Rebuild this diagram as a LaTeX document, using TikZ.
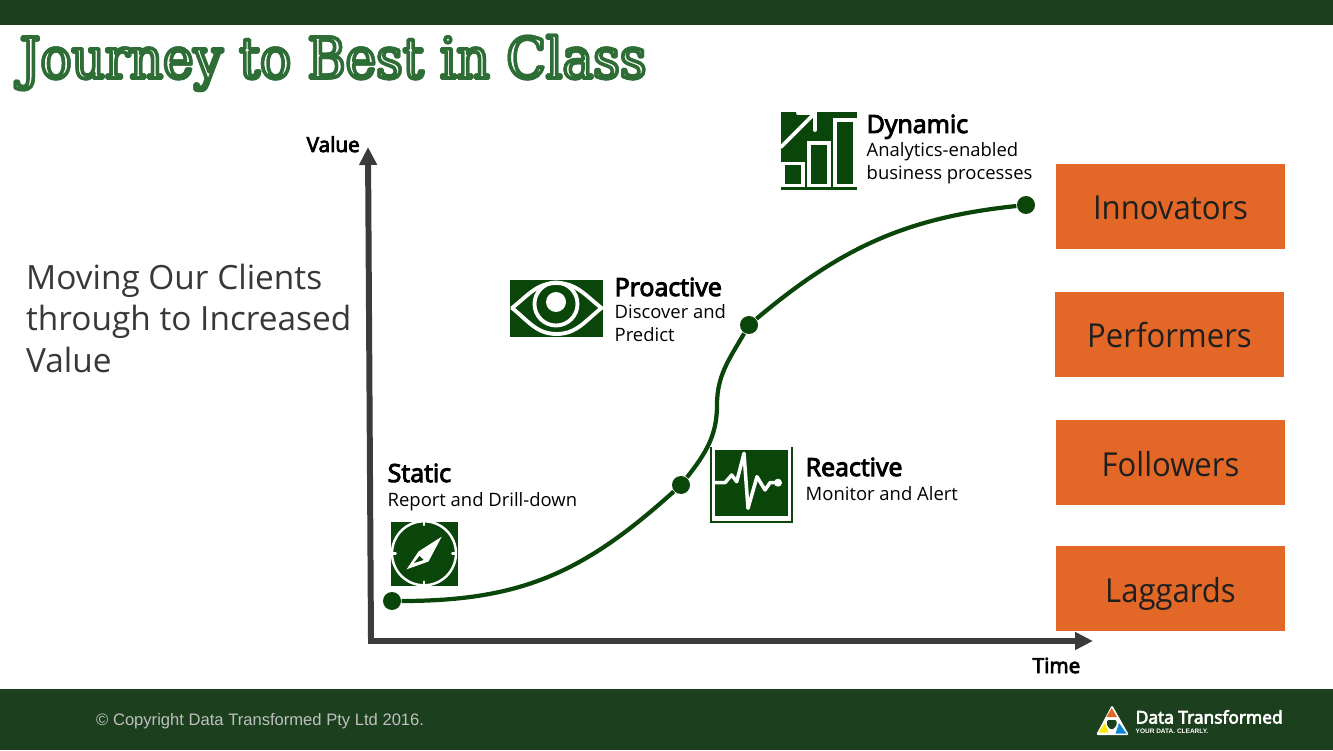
\documentclass[tikz,border=0pt]{standalone}
\usepackage{fontspec}
\setmainfont{Open Sans}
\newfontfamily\titlefont[FakeStretch=0.92]{DejaVu Serif}
\newfontfamily\footfont{Liberation Sans}
\newfontfamily\boxfont[FakeStretch=0.94]{Open Sans}
\newfontfamily\headfont[FakeBold=4]{Open Sans}
\usetikzlibrary{arrows.meta}

\definecolor{barcolor}{HTML}{1C3F1E}
\definecolor{leafcolor}{HTML}{0A450A}
\definecolor{titlecolor}{HTML}{2E6E35}
\definecolor{boxcolor}{HTML}{E36727}
\definecolor{axiscolor}{HTML}{3B3B3B}

\newcommand{\titlestroke}[2]{\special{pdf:code q #2 Tr #1 w 0.18 0.43 0.21 RG 1 j}}
\newcommand{\titlestrokeend}{\special{pdf:code Q}}
\newcommand{\titlewords}{Journey to Best in Class}

\tikzset{
  levelbox/.style={fill=boxcolor,minimum width=2.29cm,minimum height=0.85cm,inner sep=0,text height=0.27cm,text depth=0,font=\boxfont\fontsize{9.4}{11}\selectfont,text=black!88},
  stagehead/.style={anchor=base west,inner sep=0,font=\headfont\fontsize{7.1}{8.2}\selectfont},
  stagetext/.style={anchor=base west,inner sep=0,align=left,font=\fontsize{5.25}{6.6}\selectfont},
  axislabel/.style={anchor=base west,inner sep=0,font=\headfont\fontsize{5.9}{7.2}\selectfont},
  curvedot/.style={circle,fill=leafcolor,minimum size=0.18cm,inner sep=0},
  titleword/.style={anchor=base west,inner sep=0,font=\titlefont\fontsize{16}{18}\selectfont},
  iconline/.style={draw=white,line width=1.1pt,line join=round,line cap=round}
}

\begin{document}
\begin{tikzpicture}[scale=1]
\useasboundingbox (0,0) rectangle (13.33,7.5);

% Bars
\fill[barcolor] (0,7.25) rectangle (13.33,7.5);
\fill[barcolor] (0,0) rectangle (13.33,0.61);

% Title
\node[titleword,text=titlecolor] (title) at (0.19,6.72) {\titlestroke{1}{2}\titlewords\titlestrokeend};
\node[titleword,text=white] (titleinner) at (0.19,6.72) {\titlewords};
\node[titleword,text=white] (titleline) at (0.19,6.72) {\titlestroke{1}{1}\titlewords\titlestrokeend};

% Left text
\node[anchor=base west,inner sep=0,align=left,text=black!78,font=\fontsize{9.5}{11.95}\selectfont] (intro) at (0.255,3.77) {Moving Our Clients\\through to Increased\\Value};

% Axes
\coordinate (origin) at (3.71,1.09);
\coordinate (valuetip) at (3.68,6.03);
\coordinate (timetip) at (10.93,1.09);
\draw[axiscolor,line width=1.7pt,-{Triangle[length=0.18cm,width=0.17cm]}] (origin) -- (valuetip);
\draw[axiscolor,line width=1.7pt,-{Triangle[length=0.18cm,width=0.17cm]}] (3.68,1.09) -- (timetip);
\node[axislabel] (value) at (3.06,5.98) {Value};
\node[axislabel] (time) at (10.32,0.77) {Time};

% Curve
\node[curvedot] (static) at (3.92,1.49) {};
\node[curvedot] (reactive) at (6.81,2.65) {};
\node[curvedot] (proactive) at (7.49,4.25) {};
\node[curvedot] (dynamic) at (10.26,5.45) {};
\coordinate (bend) at (7.17,3.45);
\draw[leafcolor,line width=1.2pt] (static) to [out=0,in=222,looseness=1.05] (reactive) to [out=52,in=270] (bend) to [out=90,in=240] (proactive) to [out=40,in=186] (dynamic);

% Labels
\node[stagehead] (statichead) at (3.87,2.68) {Static};
\node[stagetext] (statictext) at (3.87,2.43) {Report and Drill-down};
\node[stagehead] (reactivehead) at (8.05,2.74) {Reactive};
\node[stagetext] (reactivetext) at (8.05,2.50) {Monitor and Alert};
\node[stagehead] (proactivehead) at (6.14,4.54) {Proactive};
\node[stagetext] (proactivetext) at (6.14,4.08) {Discover and\\Predict};
\node[stagehead] (dynamichead) at (8.66,6.17) {Dynamic};
\node[stagetext] (dynamictext) at (8.66,5.70) {Analytics-enabled\\business processes};

% Boxes
\node[levelbox] (innovators) at (11.705,5.435) {Innovators};
\node[levelbox] (performers) at (11.695,4.155) {Performers};
\node[levelbox] (followers) at (11.705,2.875) {Followers};
\node[levelbox] (laggards) at (11.705,1.615) {Laggards};

% Compass icon
\fill[leafcolor] (3.91,1.64) rectangle (4.58,2.28);
\draw[iconline,line width=0.7pt] (4.24,1.967) circle (0.32);
\draw[iconline,line width=0.7pt] (4.24,2.287) -- (4.24,2.25) (4.24,1.647) -- (4.24,1.684) (3.92,1.967) -- (3.957,1.967) (4.56,1.967) -- (4.523,1.967);
\fill[white] (4.067,1.807) -- (4.185,1.985) -- (4.417,2.133) -- (4.285,1.885) -- cycle;
\fill[leafcolor] (4.14,1.87) -- (4.195,1.94) -- (4.235,1.9) -- cycle;

% Eye icon
\fill[leafcolor] (5.10,4.13) rectangle (6.03,4.70);
\draw[iconline] (5.12,4.42) to [out=38,in=180] (5.565,4.67) to [out=0,in=142] (6.015,4.42) to [out=218,in=0] (5.565,4.16) to [out=180,in=-38] (5.12,4.42);
\draw[iconline] (5.56,4.46) circle (0.215);
\fill[white] (5.56,4.48) circle (0.10);

% Pulse icon
\draw[leafcolor,line width=0.4pt] (7.11,3.03) -- (7.11,2.28) -- (7.92,2.28) -- (7.92,3.03);
\fill[leafcolor] (7.15,2.34) rectangle (7.88,3.00);
\draw[iconline,line width=1pt] (7.15,2.673) -- (7.25,2.673) -- (7.317,2.75) -- (7.367,2.683) -- (7.44,2.967) -- (7.48,2.417) -- (7.57,2.733) -- (7.65,2.60) -- (7.70,2.673) -- (7.78,2.673);
\fill[white] (7.78,2.673) circle (0.04);

% Chart icon
\fill[leafcolor] (7.81,5.60) rectangle (8.57,6.38);
\foreach \barleft/\bartop in {7.83/5.865,8.087/6.07,8.347/6.30}
  \draw[white,line width=1.1pt] (\barleft,5.645) -- (\barleft,\bartop) -- (\barleft+0.2,\bartop) -- (\barleft+0.2,5.645) -- cycle;
\draw[iconline] (7.81,6.03) -- (8.13,6.35);
\draw[iconline] (7.98,6.37) -- (8.15,6.37) -- (8.15,6.2);

% Footer
\node[anchor=base west,inner sep=0,text=black!25,font=\footfont\fontsize{4.72}{5.6}\selectfont] (copyright) at (0.955,0.25) {© Copyright Data Transformed Pty Ltd 2016.};
\fill[white,rounded corners=0.6pt,line join=round] (11.12,0.45) -- (11.29,0.15) -- (10.96,0.15) -- cycle;
\fill[boxcolor] (11.117,0.42) -- (11.17,0.33) -- (11.065,0.33) -- cycle;
\fill[yellow!90!orange] (10.985,0.175) -- (11.085,0.175) -- (11.05,0.27) -- cycle;
\fill[cyan!70!blue] (11.265,0.165) -- (11.155,0.165) -- (11.19,0.27) -- cycle;
\fill[barcolor,rounded corners=0.4pt] (11.07,0.30) -- (11.165,0.30) -- (11.165,0.24) -- (11.117,0.20) -- (11.07,0.24) -- cycle;
\node[anchor=base west,inner sep=0,text=white,font=\headfont\fontsize{4.95}{5.8}\selectfont] (logoname) at (11.35,0.265) {Data Transformed};
\node[anchor=base west,inner sep=0,text=white,font=\footfont\fontsize{1.85}{2.2}\selectfont\bfseries] (logotag) at (11.35,0.17) {YOUR DATA. CLEARLY.};

\end{tikzpicture}
\end{document}
